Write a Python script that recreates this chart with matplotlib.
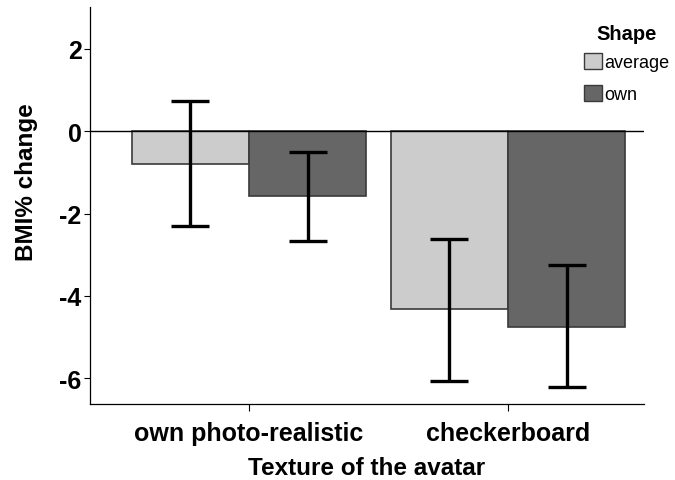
import matplotlib
matplotlib.use("Agg")
import matplotlib.pyplot as plt
from matplotlib.patches import Patch
import numpy as np

plt.rcParams['font.family'] = ['Liberation Sans', 'DejaVu Sans']
plt.rcParams['axes.unicode_minus'] = False

# data
textures = ["own photo-realistic", "checkerboard"]
shapes = ["average", "own"]
avg_mean = [-0.79, -4.33]
avg_lo = [-2.31, -6.07]
avg_hi = [0.73, -2.61]
own_mean = [-1.57, -4.75]
own_lo = [-2.66, -6.22]
own_hi = [-0.50, -3.26]

colors = ["#cccccc", "#666666"]
edge = "#3a3a3a"

fig = plt.figure(figsize=(6.75, 4.81), dpi=100)
ax = fig.add_axes([90/675, 1-405/481, (644-90)/675, (405-8)/481])

x = np.arange(len(textures))
w = 0.452

for i, (m, lo, hi) in enumerate([(avg_mean, avg_lo, avg_hi), (own_mean, own_lo, own_hi)]):
    pos = x + (i - 0.5) * w
    m = np.array(m)
    ax.bar(pos, m, width=w, color=colors[i], edgecolor=edge, linewidth=1.2, zorder=2)
    yerr = [m - np.array(lo), np.array(hi) - m]
    ax.errorbar(pos, m, yerr=yerr, fmt='none', ecolor='black', elinewidth=2.4,
                capsize=13.5, capthick=2.4, zorder=3)

ax.axhline(0, color='black', linewidth=1.0, zorder=4)

ax.set_xlim(-0.614, 1.525)
ax.set_ylim(-6.63, 3.02)
ax.set_yticks([-6, -4, -2, 0, 2])
ax.set_xticks(x)
ax.set_xticklabels(textures, fontsize=18, fontweight='bold')
ax.tick_params(axis='y', labelsize=18, length=4, width=0.8, pad=2)
ax.tick_params(axis='x', length=5, width=0.8, pad=7)
for lab in ax.get_yticklabels():
    lab.set_fontweight('bold')

ax.spines['top'].set_visible(False)
ax.spines['right'].set_visible(False)
for s in ['left', 'bottom']:
    ax.spines[s].set_linewidth(0.9)

ax.set_ylabel("BMI% change", fontsize=17.5, fontweight='bold')
ax.yaxis.set_label_coords(-0.094, 0.562)
ax.set_xlabel("Texture of the avatar", fontsize=17.5, fontweight='bold', labelpad=8)

handles = [Patch(facecolor=colors[i], edgecolor=edge, label=shapes[i]) for i in range(2)]
leg = ax.legend(handles=handles, loc='upper left', bbox_to_anchor=(575/675, 1-16/481),
                bbox_transform=fig.transFigure, frameon=False, borderpad=0,
                handlelength=1.0, handleheight=1.0, handletextpad=0.12,
                labelspacing=0.75, fontsize=13, title="Shape",
                title_fontproperties={'weight': 'bold', 'size': 14.5})
leg._legend_box.sep = 7

fig.savefig("out.png", dpi=100)
